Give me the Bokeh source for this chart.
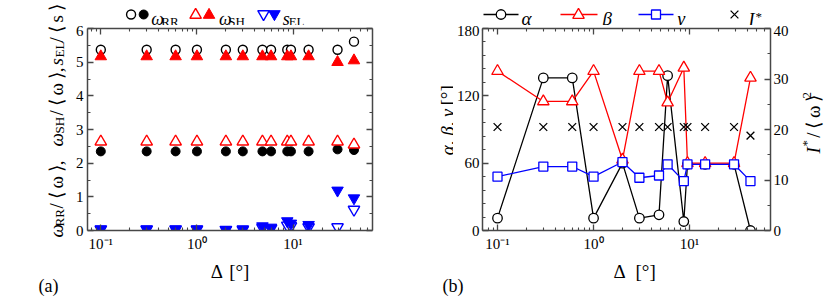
import math
from bokeh.plotting import figure
from bokeh.models import (LogAxis, LinearAxis, FixedTicker, CustomJSTickFormatter,
                          Range1d, Label)
from bokeh.layouts import row, column
from bokeh.embed import file_html
from bokeh.resources import INLINE

# ---------------- data ----------------
delta = [0.1, 0.3, 0.6, 1.0, 2.0, 3.0, 4.8, 5.9, 8.7, 9.5, 14.5, 29.0, 43.0]

w_rr_open = [5.37, 5.37, 5.37, 5.37, 5.37, 5.37, 5.37, 5.37, 5.37, 5.37, 5.37, 5.37, 5.61]
w_rr_fill = [2.35, 2.35, 2.35, 2.35, 2.35, 2.35, 2.35, 2.35, 2.35, 2.35, 2.35, 2.41, 2.39]
w_sh_open = [2.64, 2.64, 2.64, 2.64, 2.64, 2.64, 2.64, 2.64, 2.64, 2.64, 2.64, 2.64, 2.55]
w_sh_fill = [5.17, 5.17, 5.17, 5.17, 5.17, 5.17, 5.17, 5.17, 5.17, 5.17, 5.17, 5.00, 5.05]
s_el_open = [0.03, 0.03, 0.03, 0.03, 0.02, 0.02, 0.08, 0.06, 0.15, 0.13, 0.10, 0.10, 0.62]
s_el_fill = [0.04, 0.04, 0.04, 0.04, 0.02, 0.04, 0.13, 0.09, 0.28, 0.21, 0.17, 1.19, 0.96]

alpha = [11, 136, 136, 11, 60, 11, 14, 138, 8, 59, 59, 59, 0]
beta = [142, 115, 115, 142, 63, 142, 142, 114, 145, 60, 60, 60, 136]
gamma = [48, 57, 57, 48, 61, 47, 49, 59, 44, 59, 59, 59, 44]
istar = [20.5, 20.5, 20.5, 20.5, 20.5, 20.5, 20.5, 20.5, 20.5, 20.5, 20.5, 20.5, 18.8]

left_yticks = [0, 1, 2, 3, 4, 5, 6]
ang_ticks = [0, 60, 120, 180]
istar_ticks = [0, 10, 20, 30, 40]
x_major = [0.1, 1, 10]

SERIF = "Liberation Serif"
AX = "#474747"
RED = "#ff0000"
BLUE = "#0000ff"
A = math.pi / 2
TS = "\u2009"  # thin space

x_minor = [m * d for d in (0.01, 0.1, 1, 10) for m in range(2, 10)]

log_fmt = CustomJSTickFormatter(code="""
const e = Math.round(Math.log10(tick));
const m = {'-1': '\u207b\u00b9', '0': '\u2070', '1': '\u00b9', '2': '\u00b2'};
return '10' + (m[String(e)] || e);
""")
blank_fmt = CustomJSTickFormatter(code="return '';")


def style_axis(ax, labels=True, standoff=4):
    ax.axis_line_color = AX
    ax.axis_line_width = 1.5
    ax.major_tick_line_color = AX
    ax.minor_tick_line_color = AX
    ax.major_tick_line_width = 1.3
    ax.minor_tick_line_width = 1.1
    ax.major_tick_in = 6
    ax.major_tick_out = 0
    ax.minor_tick_in = 3
    ax.minor_tick_out = 0
    ax.major_label_text_font = SERIF
    ax.major_label_text_font_size = "15px"
    ax.major_label_text_color = "black"
    ax.major_label_standoff = standoff if labels else 0
    if not labels:
        ax.formatter = blank_fmt


def strip(w, h):
    s = figure(width=w, height=h, x_range=Range1d(0, w), y_range=Range1d(h, 0),
               output_backend="svg", toolbar_location=None, min_border=0,
               x_axis_location=None, y_axis_location=None)
    s.outline_line_color = None
    s.grid.visible = False
    s.background_fill_color = "white"
    s.border_fill_color = "white"
    return s


def lab(p, text, x, y, size="18px", style="normal", color="black", angle=0.0):
    p.add_layout(Label(x=x, y=y, text=text, text_font=SERIF, text_font_size=size,
                       text_font_style=style, text_color=color, angle=angle,
                       angle_units="rad", text_align="left",
                       text_baseline="alphabetic"))


def main_fig(w, h, xr, yr, bl, br):
    p = figure(width=w, height=h, x_axis_type="log", x_range=xr, y_range=yr,
               output_backend="svg", toolbar_location=None,
               x_axis_location=None, y_axis_location=None,
               min_border_left=bl, min_border_right=br, min_border_top=3,
               min_border_bottom=26)
    p.outline_line_color = None
    p.grid.visible = False
    return p


# ================= panel (a) =================
Ma = main_fig(340, 231, Range1d(0.0727, 67.0), Range1d(0, 6), 19, 36)

xb = LogAxis(ticker=FixedTicker(ticks=x_major, minor_ticks=x_minor), formatter=log_fmt)
style_axis(xb, True, 5)
Ma.add_layout(xb, "below")
xt = LogAxis(ticker=FixedTicker(ticks=x_major, minor_ticks=x_minor))
style_axis(xt, False)
Ma.add_layout(xt, "above")
ya_minor = [0.5, 1.5, 2.5, 3.5, 4.5, 5.5]
yl = LinearAxis(ticker=FixedTicker(ticks=left_yticks, minor_ticks=ya_minor))
style_axis(yl, True, 4)
Ma.add_layout(yl, "left")
yr = LinearAxis(ticker=FixedTicker(ticks=left_yticks, minor_ticks=ya_minor))
style_axis(yr, False)
Ma.add_layout(yr, "right")

Ma.scatter(delta, w_rr_open, marker="circle", size=9, line_color="black",
           fill_color="white", line_width=1.4)
Ma.scatter(delta, w_rr_fill, marker="circle", size=9, line_color="black",
           fill_color="black", line_width=1.0)
Ma.scatter(delta, w_sh_open, marker="triangle", size=11.5, line_color=RED,
           fill_color="white", line_width=1.4)
Ma.scatter(delta, w_sh_fill, marker="triangle", size=11.5, line_color=RED,
           fill_color=RED, line_width=1.0)
Ma.scatter(delta, s_el_open, marker="inverted_triangle", size=11.5, line_color=BLUE,
           fill_color="white", line_width=1.4)
Ma.scatter(delta, s_el_fill, marker="inverted_triangle", size=11.5, line_color=BLUE,
           fill_color=BLUE, line_width=1.0)

# legend strip (a)
Ta = strip(340, 25)
Ta.scatter([52], [14], marker="circle", size=9, line_color="black", fill_color="white", line_width=1.4)
Ta.scatter([67], [14], marker="circle", size=9, line_color="black", fill_color="black")
Ta.scatter([129], [14.5], marker="triangle", size=11.5, line_color=RED, fill_color="white", line_width=1.4)
Ta.scatter([145], [14.5], marker="triangle", size=11.5, line_color=RED, fill_color=RED)
Ta.scatter([210], [13.5], marker="inverted_triangle", size=11.5, line_color=BLUE, fill_color="white", line_width=1.4)
Ta.scatter([223], [13.5], marker="inverted_triangle", size=11.5, line_color=BLUE, fill_color=BLUE)
lab(Ta, "ω", 76, 18, "18px", "italic")
lab(Ta, "RR", 88, 21, "13px")
lab(Ta, "ω", 157, 18, "18px", "italic")
lab(Ta, "SH", 168, 21, "13px")
lab(Ta, "s", 233, 18, "18px", "italic")
lab(Ta, "EL", 240, 21, "13px")

# y-label strip (a)
La = strip(68, 301)
grp = "/" + TS + "⟨" + TS + "ω" + TS + "⟩,"
for t, y, sub, st in [("ω", 237, False, "italic"), ("RR", 226, True, "normal"),
                      (grp, 208, False, "normal"), ("ω", 146, False, "italic"),
                      ("SH", 133, True, "normal"), (grp, 115, False, "normal"),
                      ("s", 65, False, "italic"), ("EL", 57, True, "normal"),
                      ("/" + TS + "⟨" + TS + "s" + TS + "⟩", 42, False, "normal")]:
    lab(La, t, 59 if sub else 56, y, "13px" if sub else "19px", st, angle=A)
lab(La, "(a)", 38, 285, "18px")

# x-label strip (a)
Ba = strip(340, 45)
lab(Ba, "Δ", 147, 15, "19px")
lab(Ba, "[°]", 169, 15, "19px")

panel_a = row(La, column(Ta, Ma, Ba))

# ================= panel (b) =================
Mb = main_fig(339, 231, Range1d(0.0698, 69.5), Range1d(0, 180), 29, 22)
Mb.extra_y_ranges = {"istar": Range1d(0, 40)}

xb2 = LogAxis(ticker=FixedTicker(ticks=x_major, minor_ticks=x_minor), formatter=log_fmt)
style_axis(xb2, True, 5)
Mb.add_layout(xb2, "below")
xt2 = LogAxis(ticker=FixedTicker(ticks=x_major, minor_ticks=x_minor))
style_axis(xt2, False)
Mb.add_layout(xt2, "above")
yl2 = LinearAxis(ticker=FixedTicker(ticks=ang_ticks, minor_ticks=list(range(12, 180, 12))))
style_axis(yl2, True, 3)
Mb.add_layout(yl2, "left")
yr2 = LinearAxis(y_range_name="istar",
                 ticker=FixedTicker(ticks=istar_ticks, minor_ticks=[5, 15, 25, 35]))
style_axis(yr2, True, 3)
Mb.add_layout(yr2, "right")

Mb.line(delta, alpha, line_color="black", line_width=1.3)
Mb.scatter(delta, alpha, marker="circle", size=9.5, line_color="black",
           fill_color="white", line_width=1.3)
Mb.line(delta, beta, line_color=RED, line_width=1.3)
Mb.scatter(delta, beta, marker="triangle", size=11.5, line_color=RED,
           fill_color="white", line_width=1.3)
Mb.line(delta, gamma, line_color=BLUE, line_width=1.3)
Mb.scatter(delta, gamma, marker="square", size=9, line_color=BLUE,
           fill_color="white", line_width=1.3)
Mb.scatter(delta, istar, marker="x", size=11, line_color="black", line_width=1.3,
           y_range_name="istar")

# legend strip (b)
Tb = strip(422, 25)
Tb.line([75, 110], [14, 14], line_color="black", line_width=1.3)
Tb.scatter([92.5], [14], marker="circle", size=9.5, line_color="black", fill_color="white", line_width=1.3)
Tb.line([152, 189], [14, 14], line_color=RED, line_width=1.3)
Tb.scatter([170], [14.5], marker="triangle", size=11.5, line_color=RED, fill_color="white", line_width=1.3)
Tb.line([230, 265], [14, 14], line_color=BLUE, line_width=1.3)
Tb.scatter([247.5], [14], marker="square", size=9, line_color=BLUE, fill_color="white", line_width=1.3)
Tb.scatter([326], [14], marker="x", size=11, line_color="black", line_width=1.3)
lab(Tb, "α", 113, 18, "19px", "italic")
lab(Tb, "β", 194, 18, "19px", "italic")
lab(Tb, "γ", 269, 18, "19px", "italic")
lab(Tb, "I", 340, 19, "18px", "italic")
lab(Tb, "*", 347, 16, "13px")

# left y-label strip (b)
Lb = strip(45, 231)
lab(Lb, "α, β, γ", 39, 145, "19px", "italic", angle=A)
lab(Lb, "[°]", 39, 88, "19px", angle=A)

# right y-label strip (b)
Rb = strip(38, 231)
lab(Rb, "I", 21, 143, "19px", "italic", angle=A)
lab(Rb, "*", 14, 135, "13px", angle=A)
lab(Rb, "/" + TS + "⟨" + TS + "ω" + TS + "⟩", 21, 125, "19px", angle=A)
lab(Rb, "2", 14, 80, "13px", angle=A)

# x-label strip (b)
Bb = strip(422, 45)
lab(Bb, "Δ", 205, 15, "19px")
lab(Bb, "[°]", 227, 15, "19px")
lab(Bb, "(b)", 34, 29, "18px")

panel_b = column(Tb, row(Lb, Mb, Rb), Bb)

layout = row(panel_a, panel_b)
open("out.html", "w").write(file_html(layout, INLINE))
